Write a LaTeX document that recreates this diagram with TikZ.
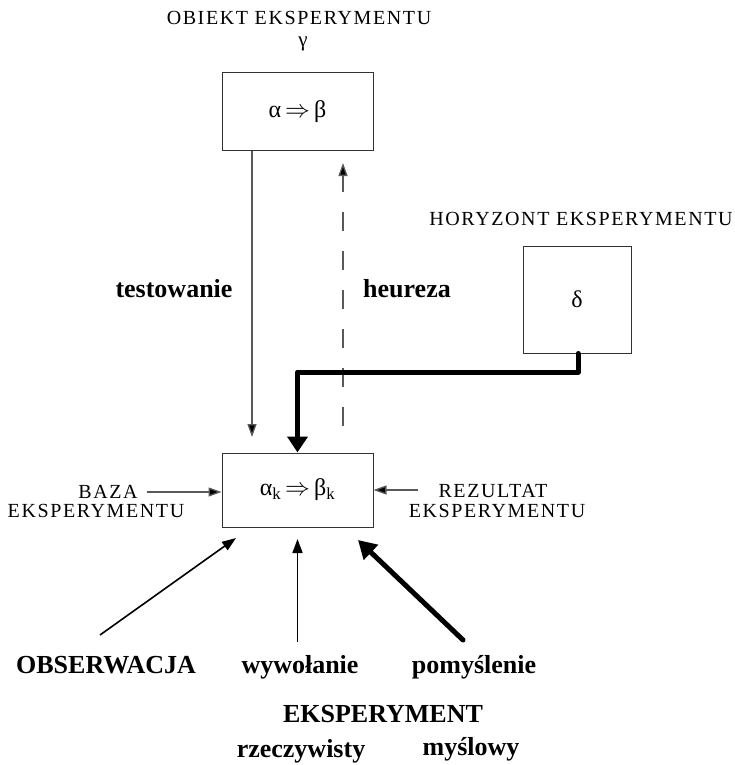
\documentclass[tikz,border=0pt]{standalone}
\usepackage{fontspec}
\setmainfont{Liberation Serif}
\newfontfamily\capsfont[LetterSpace=8]{Liberation Serif}
\usetikzlibrary{arrows.meta}
\begin{document}
\begin{tikzpicture}[x=1pt,y=-1pt,
  box/.style={draw=black!80, line width=1pt, inner sep=0pt, font=\fontsize{24}{26}\selectfont},
  lab/.style={font=\capsfont\fontsize{20}{22}\selectfont, inner sep=0pt},
  greek/.style={font=\fontsize{21}{23}\selectfont, inner sep=0pt},
  bold/.style={font=\bfseries\fontsize{26}{28}\selectfont, inner sep=0pt},
  thinarr/.style={draw=black!65, line width=1.3pt, -{Triangle[length=13pt,width=9pt,fill=black]}},
  dasharr/.style={draw=black!65, line width=1.3pt, dash pattern=on 19pt off 20pt, -{Triangle[length=13pt,width=9pt,fill=black]}},
  thickarr/.style={draw=black, line width=5pt, line join=round, line cap=round, -{Triangle[length=16pt,width=20pt]}},
  darr/.style={draw=black, line width=1.6pt, -{Triangle[length=14pt,width=10pt]}},
]
\useasboundingbox (0,0) rectangle (735,765);
% boxes
\node[box, minimum width=151pt, minimum height=77pt] (top) at (297.5,111.5) {α\,$\Rightarrow$\,β};
\node[box, minimum width=151pt, minimum height=74pt] (bot) at (297.5,490) {α\textsubscript{k}\,$\Rightarrow$\,β\textsubscript{k}};
\node[box, minimum width=108pt, minimum height=107pt] (hor) at (577,299.5) {δ};
% labels
\node[lab, anchor=base] (obiekt) at (299,25) {OBIEKT EKSPERYMENTU};
\node[greek, anchor=base] (gamma) at (303,47) {γ};
\node[lab, anchor=base] (horyzont) at (581,225) {HORYZONT EKSPERYMENTU};
\node[bold, anchor=base] (testowanie) at (174,297) {testowanie};
\node[bold, anchor=base] (heureza) at (407,297) {heureza};
\node[lab, anchor=base] (baza) at (108,498) {BAZA};
\node[lab, anchor=base] (baza2) at (96,517) {EKSPERYMENTU};
\node[lab, anchor=base] (rez) at (493,497) {REZULTAT};
\node[lab, anchor=base] (rez2) at (497,517) {EKSPERYMENTU};
\node[bold, anchor=base] (obs) at (106,673) {OBSERWACJA};
\node[bold, anchor=base] (wyw) at (300,673) {wywołanie};
\node[bold, anchor=base] (pom) at (474,673) {pomyślenie};
\node[bold, anchor=base] (eks) at (383,722) {EKSPERYMENT};
\node[bold, anchor=base] (rzecz) at (301,757) {rzeczywisty};
\node[bold, anchor=base] (mysl) at (471,755) {myślowy};
% coordinates
\coordinate (tA) at (252,150);
\coordinate (tB) at (252,437);
\coordinate (hA) at (343,426);
\coordinate (hB) at (343,163);
\coordinate (d1) at (578,372);
\coordinate (d2) at (297.5,372);
\coordinate (bz) at (147,492);
\coordinate (rz) at (418,490);
\coordinate (o1) at (100,635);
\coordinate (o2) at (236,538);
\coordinate (w1) at (297.5,642);
\coordinate (w2) at (297.5,539);
\coordinate (p1) at (463,640);
\coordinate (p2) at (358,540);
% connectors
\draw[thinarr] (top.south -| tA) -- (tB);
\draw[dasharr] (hA) -- (hB);
\draw[thickarr] (hor.south -| d1) -- (d1) -- (d2) -- (bot.north);
\draw[thinarr] (bz) -- (bot.west |- bz);
\draw[thinarr] (rz) -- (bot.east |- rz);
\draw[darr] (o1) -- (o2);
\draw[darr] (w1) -- (w2);
\draw[draw=black, line width=5pt, line cap=round, -{Triangle[length=18pt,width=20pt]}] (p1) -- (p2);
\end{tikzpicture}
\end{document}
